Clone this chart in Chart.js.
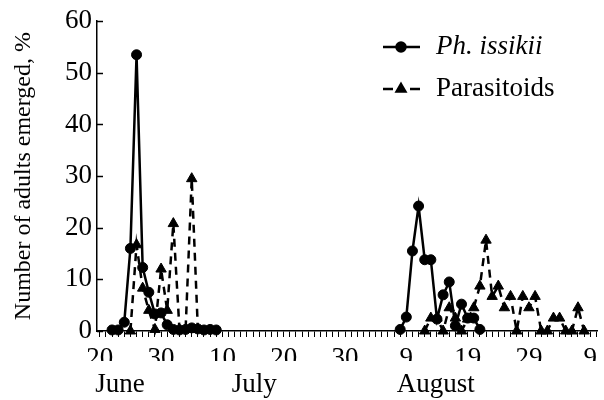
<!DOCTYPE html>
<html>
<head>
<meta charset="utf-8">
<script src="https://cdn.jsdelivr.net/npm/chart.js@4.4.1/dist/chart.umd.min.js"></script>
<style>
  html, body { margin: 0; padding: 0; background: #fff; }
</style>
</head>
<body>
<canvas id="myChart" width="604" height="400"></canvas>
<script>
// days counted from 20 June (= 0)
var issikiiDaysJune = [2, 3, 4, 5, 6, 7, 8, 9, 10, 11, 12, 13, 14, 15, 16, 17, 18, 19];
var issikiiJune     = [0.2, 0.2, 1.7, 16, 53.5, 12.3, 7.5, 3.3, 3.5, 1.2, 0.3, 0.2, 0.3, 0.6, 0.4, 0.2, 0.3, 0.2];
var issikiiDaysAug  = [49, 50, 51, 52, 53, 54, 55, 56, 57, 58, 59, 60, 61, 62];
var issikiiAug      = [0.3, 2.7, 15.5, 24.2, 13.8, 13.8, 2.3, 7, 9.5, 1, 5.2, 2.5, 2.5, 0.3];

var parasDaysJune = [5, 6, 7, 8, 9, 10, 11, 12, 13, 14, 15, 16];
var parasJune     = [0, 16.7, 8.3, 4, 0.3, 12, 4, 20.8, 0.3, 0.3, 29.5, 0.3];
var parasDaysAug  = [53, 54, 55, 56, 57, 58, 59, 60, 61, 62, 63, 64, 65, 66, 67, 68, 69, 70, 71, 72, 73, 74, 75, 76, 77, 78, 79];
var parasAug      = [0, 2.5, 2.5, 0, 4.5, 2.5, 0, 2.3, 4.5, 8.7, 17.6, 6.7, 8.7, 4.5, 6.7, 0, 6.7, 4.5, 6.7, 0, 0, 2.5, 2.5, 0, 0, 4.5, 0];

var tickDays   = [0, 10, 20, 30, 40, 50, 60, 70, 80];
var tickLabels = ['20', '30', '10', '20', '30', '9', '19', '29', '9'];
var monthDays   = [3.3, 25.2, 54.8];
var monthLabels = ['June', 'July', 'August'];
var yTicks = [0, 10, 20, 30, 40, 50, 60];

var seriesNames = ['Ph. issikii', 'Parasitoids'];

function toPoints(daysA, valsA, daysB, valsB) {
  var pts = [];
  daysA.forEach(function (d, i) { pts.push({x: d, y: valsA[i]}); });
  pts.push({x: (daysA[daysA.length - 1] + daysB[0]) / 2, y: null});
  daysB.forEach(function (d, i) { pts.push({x: d, y: valsB[i]}); });
  return pts;
}

var serif = '"Liberation Serif", "Times New Roman", serif';

// y ticks point into the plot, so draw them here
var innerTicks = {
  id: 'innerTicks',
  afterDraw: function (chart) {
    var ctx = chart.ctx, y = chart.scales.y, left = chart.chartArea.left;
    ctx.save();
    ctx.strokeStyle = '#000';
    ctx.lineWidth = 1.5;
    yTicks.forEach(function (v) {
      var py = Math.round(y.getPixelForValue(v)) + 0.5;
      ctx.beginPath();
      ctx.moveTo(left, py);
      ctx.lineTo(left + 6, py);
      ctx.stroke();
    });
    ctx.restore();
  }
};

var legendPlugin = {
  id: 'sideLegend',
  afterDraw: function (chart) {
    var ctx = chart.ctx;
    var rows = [
      {y: 47, dash: [], style: 'circle', font: 'italic 27px ' + serif},
      {y: 89, dash: [10, 17], style: 'triangle', font: '27px ' + serif}
    ];
    ctx.save();
    rows.forEach(function (r, i) {
      ctx.strokeStyle = '#000';
      ctx.fillStyle = '#000';
      ctx.lineWidth = 2.5;
      ctx.setLineDash(r.dash);
      ctx.beginPath();
      ctx.moveTo(383, r.y);
      ctx.lineTo(420, r.y);
      ctx.stroke();
      ctx.setLineDash([]);
      Chart.helpers.drawPoint(ctx, {pointStyle: r.style, radius: r.style === 'circle' ? 4.5 : 5, borderWidth: 1}, 401, r.y);
      ctx.font = r.font;
      ctx.textBaseline = 'middle';
      ctx.textAlign = 'left';
      ctx.fillText(seriesNames[i], 436, r.y);
    });
    ctx.restore();
  }
};

new Chart(document.getElementById('myChart'), {
  type: 'line',
  data: {
    datasets: [
      {
        label: seriesNames[0],
        data: toPoints(issikiiDaysJune, issikiiJune, issikiiDaysAug, issikiiAug),
        borderColor: '#000',
        backgroundColor: '#000',
        borderWidth: 2.5,
        pointStyle: 'circle',
        pointRadius: 5,
        pointBorderWidth: 1,
        spanGaps: false,
        clip: false
      },
      {
        label: seriesNames[1],
        data: toPoints(parasDaysJune, parasJune, parasDaysAug, parasAug),
        borderColor: '#000',
        backgroundColor: '#000',
        borderWidth: 2.5,
        borderDash: [8, 6],
        pointStyle: 'triangle',
        pointRadius: 6,
        pointBorderWidth: 1,
        spanGaps: false,
        clip: false
      }
    ]
  },
  options: {
    responsive: false,
    animation: false,
    events: [],
    layout: { padding: { top: 18, right: 4, left: 0, bottom: 0 } },
    plugins: { legend: { display: false }, tooltip: { enabled: false } },
    scales: {
      x: {
        type: 'linear',
        position: 'bottom',
        min: -0.45,
        max: 81.1,
        afterBuildTicks: function (s) {
          var t = [];
          for (var d = 0; d <= 81; d++) t.push({value: d});
          s.ticks = t;
        },
        afterFit: function (s) { s.height = 30; },
        grid: { drawOnChartArea: false, drawTicks: true, tickLength: 6, color: '#000', lineWidth: 1 },
        border: { color: '#000', width: 1.5 },
        ticks: {
          autoSkip: false,
          maxRotation: 0,
          padding: 6,
          color: '#000',
          font: { family: serif, size: 27 },
          callback: function (v) {
            var i = tickDays.indexOf(v);
            return i >= 0 ? tickLabels[i] : '';
          }
        }
      },
      xMonth: {
        type: 'linear',
        position: 'bottom',
        min: -0.45,
        max: 81.1,
        afterBuildTicks: function (s) {
          s.ticks = monthDays.map(function (d) { return {value: d}; });
        },
        afterFit: function (s) { s.height = 39; },
        grid: { display: false },
        border: { display: false },
        ticks: {
          autoSkip: false,
          maxRotation: 0,
          padding: 0,
          color: '#000',
          font: { family: serif, size: 27 },
          callback: function (v) {
            var i = monthDays.indexOf(v);
            return i >= 0 ? monthLabels[i] : '';
          }
        }
      },
      y: {
        min: 0,
        max: 60,
        afterBuildTicks: function (s) {
          s.ticks = yTicks.map(function (v) { return {value: v}; });
        },
        afterFit: function (s) { s.width = 97; },
        grid: { drawOnChartArea: false, drawTicks: false },
        border: { color: '#000', width: 1.5 },
        ticks: { color: '#000', padding: 5, font: { family: serif, size: 27 } },
        title: {
          display: true,
          text: 'Number of adults emerged, %',
          color: '#000',
          font: { family: serif, size: 24 },
          padding: { top: 9, bottom: 0 }
        }
      }
    }
  },
  plugins: [innerTicks, legendPlugin]
});
</script>
</body>
</html>
